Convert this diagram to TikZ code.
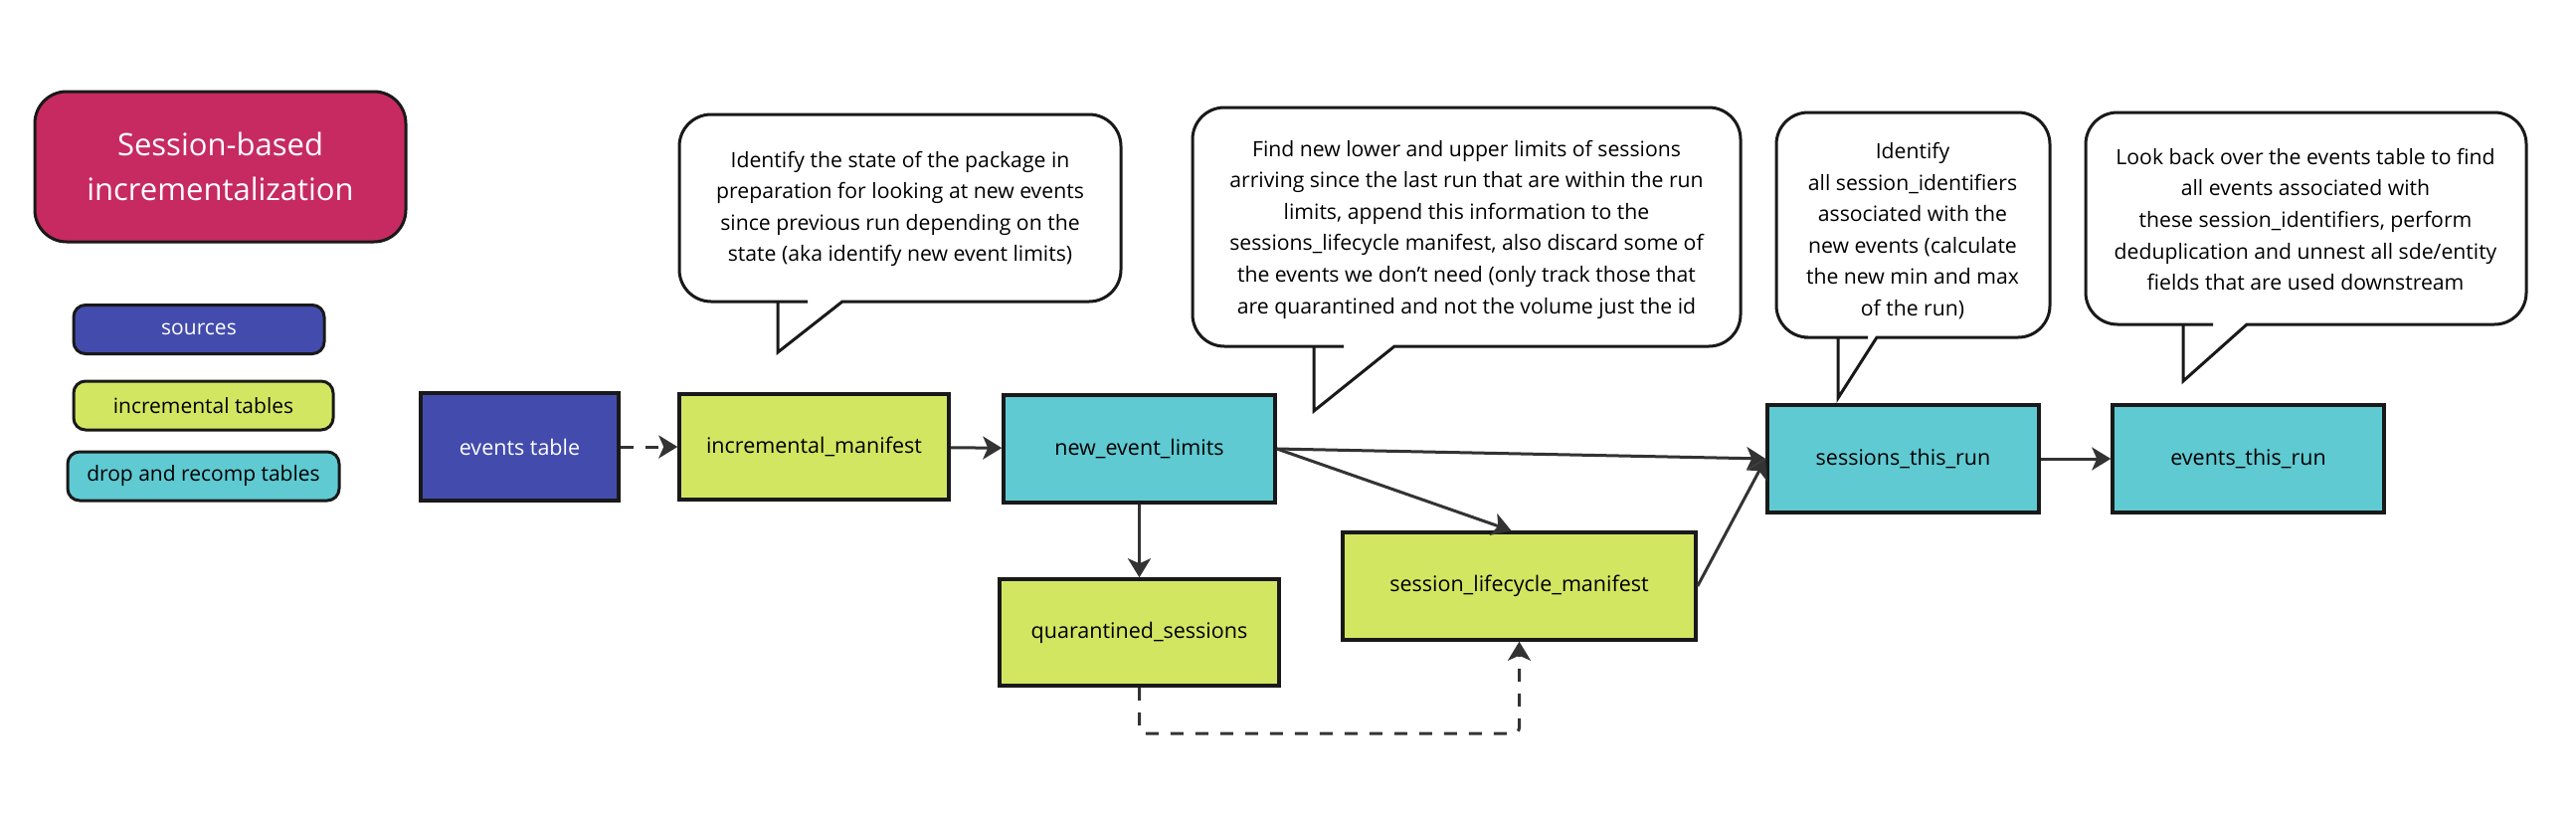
\documentclass[tikz,border=0pt]{standalone}
\usepackage{fontspec}
\setmainfont{Open Sans}
\usepackage{tikz}
\usetikzlibrary{arrows.meta}

\definecolor{sessionpink}{HTML}{C62A61}
\definecolor{sourceblue}{HTML}{434CAD}
\definecolor{incrlime}{HTML}{D3E661}
\definecolor{recompteal}{HTML}{5FCAD2}
\definecolor{linegray}{HTML}{333333}

\begin{document}
\begin{tikzpicture}[
    x=1pt, y=-1pt,
    >={Stealth[length=19pt,width=23pt,inset=5pt]},
    table box/.style={draw=black!90, line width=3.5pt, minimum width=273pt, minimum height=108pt, inner sep=0pt, font=\fontsize{21.5}{26}\selectfont},
    legend box/.style={draw=black!90, line width=3pt, rounded corners=12pt, minimum height=49pt, inner sep=0pt, font=\fontsize{21}{26}\selectfont},
    flow line/.style={->, line width=3pt, color=linegray},
    dashed flow/.style={flow line, dash pattern=on 13pt off 12pt},
    bubble/.style={draw=black!90, line width=3pt, fill=white},
    bubble text/.style={align=center, font=\fontsize{21.2}{31.6}\selectfont},
  ]
  \useasboundingbox[fill=white] (0,0) rectangle (2590,822);

  % legend
  \node[legend box, fill=sessionpink, rounded corners=32pt, minimum width=373pt, minimum height=151pt,
        text=white, align=center, font=\fontsize{31}{45}\selectfont] (title) at (221.5,167.5)
        {Session-based\\incrementalization};
  \node[legend box, fill=sourceblue, text=white, minimum width=252pt] (sources) at (200,331) {sources};
  \node[legend box, fill=incrlime, minimum width=261pt] (incrtables) at (204.5,407.5) {incremental tables};
  \node[legend box, fill=recompteal, minimum width=273pt] (recomptables) at (204.5,478.5) {drop and recomp tables};

  % speech bubbles
  \foreach \xl/\yt/\xr/\yb/\tl/\tr/\ty in {683/115/1127/303/782/847/354, 1199/108/1750/348/1321/1402/413,
      1786/113/2061/339/1848/1887/400, 2097/113/2540/326/2195/2259/383}
    \draw[bubble] ({\tl-2},\yb) -- (\tl,\yb) -- (\tl,\ty) -- (\tr,\yb) -- ({\tr+35},\yb)
      [rounded corners=32pt] -- (\xr,\yb) -- (\xr,\yt) -- (\xl,\yt) -- (\xl,\yb) -- cycle;

  \node[bubble text] (note1) at (905,210) {Identify the state of the package in\\preparation for looking at new events\\since previous run depending on the\\state (aka identify new event limits)};
  \node[bubble text] (note2) at (1474.5,230.5) {Find new lower and upper limits of sessions\\arriving since the last run that are within the run\\limits, append this information to the\\sessions\_lifecycle manifest, also discard some of\\the events we don't need (only track those that\\are quarantined and not the volume just the id};
  \node[bubble text] (note3) at (1923,232) {Identify\\all session\_identifiers\\associated with the\\new events (calculate\\the new min and max\\of the run)};
  \node[bubble text] (note4) at (2318,220.5) {Look back over the events table to find\\all events associated with\\these session\_identifiers, perform\\deduplication and unnest all sde/entity\\fields that are used downstream};

  % tables
  \node[table box, fill=sourceblue, text=white, minimum width=199pt] (events) at (522.5,449) {events table};
  \node[table box, fill=incrlime, minimum width=271pt, minimum height=106pt] (incmanifest) at (818.5,449) {incremental\_manifest};
  \node[table box, fill=recompteal] (neweventlimits) at (1145.5,451) {new\_event\_limits};
  \node[table box, fill=incrlime, minimum width=281pt, minimum height=107pt] (quarantined) at (1145.5,635.5) {quarantined\_sessions};
  \node[table box, fill=incrlime, minimum width=355pt] (lifecycle) at (1527.5,589) {session\_lifecycle\_manifest};
  \node[table box, fill=recompteal] (sessionsrun) at (1913.5,461) {sessions\_this\_run};
  \node[table box, fill=recompteal] (eventsrun) at (2260.5,461) {events\_this\_run};

  \coordinate (loopcorner) at (1145.5,737);

  \draw[dashed flow] (events) -- (incmanifest);
  \draw[flow line] (incmanifest) -- (neweventlimits);
  \draw[flow line] (neweventlimits) -- (quarantined);
  \draw[flow line] (neweventlimits.east) -- (sessionsrun.west);
  \draw[flow line] (neweventlimits.east) -- ([xshift=-8pt]lifecycle.north);
  \draw[flow line] (lifecycle.east) -- (sessionsrun.west);
  \draw[flow line] (sessionsrun) -- (eventsrun);
  \draw[dashed flow, rounded corners=6pt] (quarantined.south) -- (loopcorner) -| (lifecycle.south);
\end{tikzpicture}
\end{document}
